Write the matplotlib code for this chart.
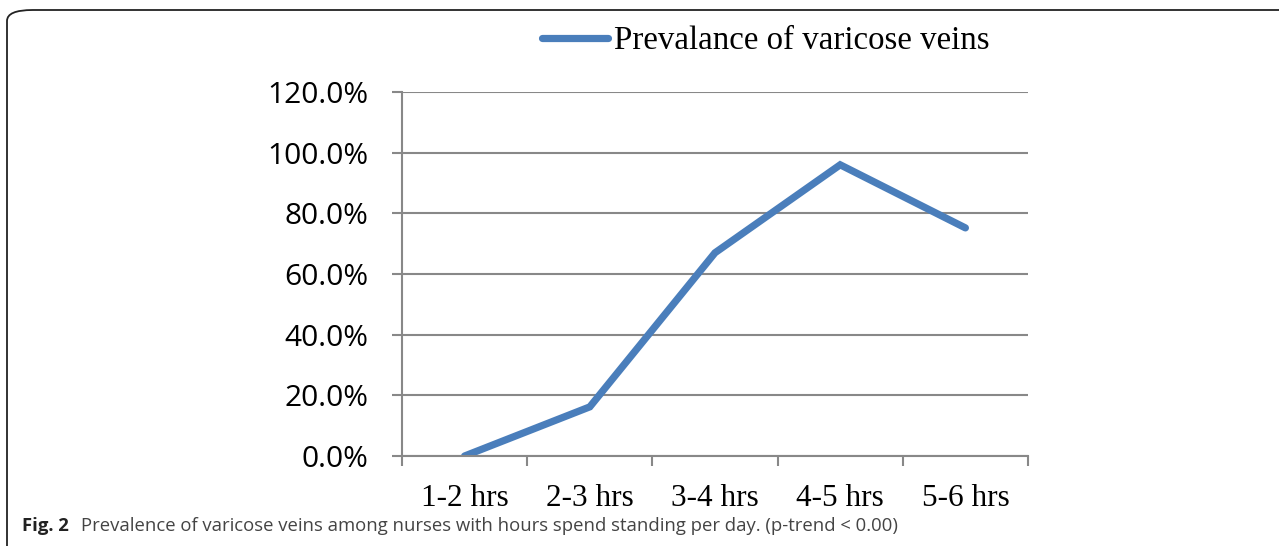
import matplotlib.pyplot as plt
from matplotlib.patches import FancyBboxPatch

# datos
categorias = ["1-2 hrs", "2-3 hrs", "3-4 hrs", "4-5 hrs", "5-6 hrs"]
prevalencia = [0.0, 16.2, 67.0, 96.0, 75.2]
yticks = [0, 20, 40, 60, 80, 100, 120]

W, H = 1279, 546
fig = plt.figure(figsize=(W / 100, H / 100), dpi=100)

# marco redondeado de la figura
marco = FancyBboxPatch((7 / W, -0.2), 1.2, 1 - 10 / H + 0.2,
                       boxstyle="round,pad=0,rounding_size=0.02",
                       transform=fig.transFigure, fill=False,
                       edgecolor="#222222", linewidth=1.3)
fig.patches.append(marco)

ax = fig.add_axes([402 / W, 1 - 456 / H, (1028 - 402) / W, (456 - 92) / H])
x = range(len(categorias))
ax.plot(x, prevalencia, color="#4a7ebb", linewidth=5.2,
        solid_joinstyle="miter", solid_capstyle="round",
        label="Prevalance of varicose veins")

ax.set_xlim(-0.5, len(categorias) - 0.5)
ax.set_ylim(0, 120)
ax.set_yticks(yticks)
ax.set_yticklabels([f"{v:.1f}%" for v in yticks],
                   fontfamily="Open Sans", fontsize=21.5)
ax.set_xticks([i - 0.5 for i in range(len(categorias) + 1)])
ax.set_xticklabels([])
ax.set_xticks(list(x), minor=True)
ax.set_xticklabels(categorias, minor=True, fontfamily="Liberation Serif",
                   fontsize=22.5)
ax.tick_params(axis="x", which="minor", length=0, pad=20)
ax.tick_params(axis="x", which="major", length=7, width=1.5, color="#888888")
ax.tick_params(axis="y", length=7.2, width=1.5, color="#888888", pad=17)

ax.grid(axis="y", color="#888888", linewidth=1.5)
ax.set_axisbelow(True)
for s in ["top", "right"]:
    ax.spines[s].set_visible(False)
for s in ["left", "bottom"]:
    ax.spines[s].set_color("#888888")
    ax.spines[s].set_linewidth(1.5)

# leyenda
ax.legend(loc="center", bbox_to_anchor=(766 / W, 1 - 41 / H),
          bbox_transform=fig.transFigure, frameon=False,
          prop={"family": "Liberation Serif", "size": 23.7},
          handlelength=2.0, handletextpad=0.2)

# pie de figura
fig.text(22 / W, 1 - 526 / H, "Fig. 2", fontfamily="Open Sans",
         fontweight="bold", fontsize=13.3, color="#222222", va="center")
fig.text(81 / W, 1 - 526 / H,
         "Prevalence of varicose veins among nurses with hours spend standing per day. (p-trend < 0.00)",
         fontfamily="Open Sans", fontsize=13.3, color="#444444", va="center")

fig.savefig("out.png", dpi=100)
